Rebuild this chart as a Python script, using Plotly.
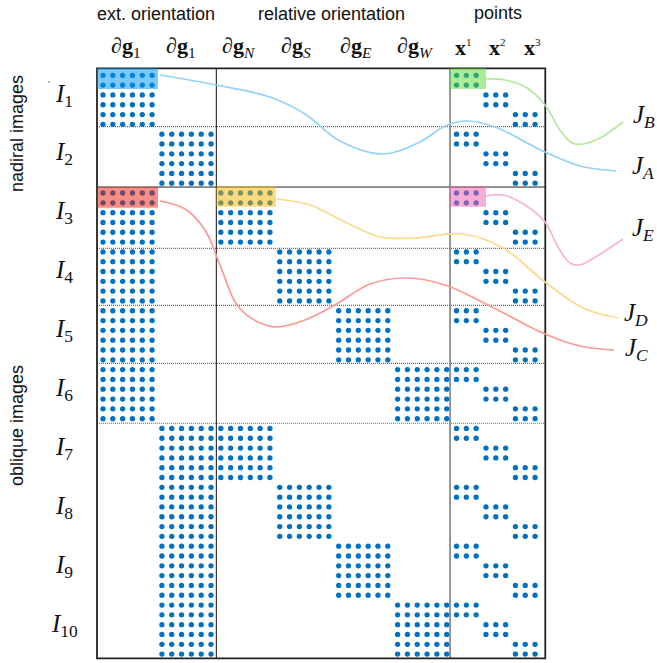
import plotly.graph_objects as go

# matrix layout: 10 images x 6 rows, 45 unknowns
images = ["I1", "I2", "I3", "I4", "I5", "I6", "I7", "I8", "I9", "I10"]
image_rows = 6
ext_a_images = [0, 2, 3, 4, 5]
ext_b_images = [1, 6, 7, 8, 9]
rel_blocks = {12: [2, 6], 18: [3, 7], 24: [4, 8], 30: [5, 9]}
point_start = 36

sup = "<sup><span style='font-size:11px'>%s</span></sup>"
col_heads = ["∂<b>g</b><sub>1</sub>", "∂<b>g</b><sub>1</sub>", "∂<b>g</b><sub><i>N</i></sub>", "∂<b>g</b><sub><i>S</i></sub>",
             "∂<b>g</b><sub><i>E</i></sub>", "∂<b>g</b><sub><i>W</i></sub>", "<b>x</b>" + sup % 1, "<b>x</b>" + sup % 2, "<b>x</b>" + sup % 3]
head_x = [126, 181, 238, 296, 356, 415, 463, 497, 532]

# separators in matrix units (column / row)
hlines_dotted = [5.23, 17.64, 23.45, 29.36, 35.47]
hline_solid = 11.39
frame = [-0.61, 45.04, -0.71, 59.43]
vline_black = 11.54
vline_gray = 35.34

# highlighted jacobian blocks: x0, x1, y0, y1, colour
highlights = [
    (-0.61, 5.6, -0.71, 1.4, "rgba(0,150,245,0.52)"),
    (35.34, 39.0, -0.71, 1.4, "rgba(90,215,50,0.5)"),
    (-0.61, 5.6, 11.39, 13.5, "rgba(235,30,10,0.5)"),
    (11.54, 17.6, 11.3, 13.4, "rgba(245,180,0,0.5)"),
    (35.34, 39.0, 11.3, 13.4, "rgba(240,90,170,0.5)"),
]

# curves
ja_x = [160, 216, 270, 305, 340, 383, 420, 445, 467, 495, 545, 580, 616]
ja_y = [75, 85, 97, 114, 141, 154, 142, 126, 121, 127, 152, 166, 171]
jb_x = [486, 505, 527, 545, 560, 572, 583, 600, 623]
jb_y = [79, 80, 88, 105, 130, 143, 144, 138, 122]
jc_x = [160, 185, 205, 220, 237, 256, 277, 305, 335, 370, 407, 445, 490, 545, 580, 614]
jc_y = [201, 209, 230, 265, 305, 321, 327, 320, 305, 284, 278, 285, 306, 334, 346, 350]
jd_x = [277, 310, 345, 380, 415, 463, 503, 545, 583, 618]
jd_y = [199, 205, 222, 237, 238, 234, 248, 282, 308, 318]
je_x = [486, 503, 525, 545, 558, 570, 580, 597, 623]
je_y = [196, 195, 205, 222, 247, 263, 265, 256, 239]

curves = [
    (ja_x, ja_y, "#93d1fb"),
    (jb_x, jb_y, "#b4e89c"),
    (jc_x, jc_y, "#f99a94"),
    (jd_x, jd_y, "#fcd98d"),
    (je_x, je_y, "#f7b3d8"),
]
curve_labels = [("J", "A", 643, 167), ("J", "B", 644, 116), ("J", "C", 636, 349), ("J", "D", 636, 314), ("J", "E", 643, 229)]

# stray speck left of the I1 label
speck_x = [49]
speck_y = [82]

W, H = 657, 663
COL_STEP, ROW_STEP = 9.82, 9.81
COL0, ROW0 = 103.0, 75.3
DOT = "#0070c0"


def main():
    dots_x, dots_y = [], []

    def block(c0, r0, ncols, nrows):
        for r in range(r0, r0 + nrows):
            for c in range(c0, c0 + ncols):
                dots_x.append(c)
                dots_y.append(r)

    for i in ext_a_images:
        block(0, i * image_rows, 6, image_rows)
    for i in ext_b_images:
        block(6, i * image_rows, 6, image_rows)
    for c0, imgs in rel_blocks.items():
        for i in imgs:
            block(c0, i * image_rows, 6, image_rows)
    for i in range(len(images)):
        for k in range(3):
            block(point_start + 3 * k, i * image_rows + 2 * k, 3, 2)

    fig = go.Figure()
    fig.add_trace(go.Scatter(x=dots_x, y=dots_y, mode="markers", hoverinfo="skip",
                             marker=dict(color=DOT, size=5.3, line_width=0)))

    # curves go on a second pair of axes in picture units
    for cx, cy, color in curves:
        fig.add_trace(go.Scatter(x=cx, y=cy, mode="lines", xaxis="x2", yaxis="y2", hoverinfo="skip",
                                 line=dict(color=color, width=1.7, shape="spline", smoothing=1.0)))
    fig.add_trace(go.Scatter(x=speck_x, y=speck_y, mode="markers", xaxis="x2", yaxis="y2", hoverinfo="skip",
                             marker=dict(color="#555555", size=1.5, line_width=0)))

    for y in hlines_dotted:
        fig.add_shape(type="line", x0=frame[0], x1=frame[1], y0=y, y1=y, layer="below",
                      line=dict(color="#666666", width=1.2, dash="1px,1px"))
    fig.add_shape(type="line", x0=frame[0], x1=frame[1], y0=hline_solid, y1=hline_solid, layer="below",
                  line=dict(color="#222222", width=1))
    fig.add_shape(type="line", x0=vline_black, x1=vline_black, y0=frame[2], y1=frame[3], layer="below",
                  line=dict(color="#111111", width=1))
    fig.add_shape(type="line", x0=vline_gray, x1=vline_gray, y0=frame[2], y1=frame[3], layer="below",
                  line=dict(color="#777777", width=1.5))
    fig.add_shape(type="rect", x0=frame[0], x1=frame[1], y0=frame[2], y1=frame[3], layer="below",
                  line=dict(color="#222222", width=1.8))

    for x0, x1, y0, y1, color in highlights:
        fig.add_shape(type="rect", x0=x0, x1=x1, y0=y0, y1=y1, fillcolor=color, line_width=0)

    serif = "Liberation Serif"
    sans = "Liberation Sans"

    def text(x, y, s, size, family, angle=0):
        fig.add_annotation(x=x, y=y, xref="x2", yref="y2", text=s, showarrow=False, textangle=angle,
                           font=dict(family=family, size=size, color="#111111"))

    text(156, 14, "ext. orientation", 18, sans)
    text(331, 14, "relative orientation", 18, sans)
    text(498, 13, "points", 18, sans)
    text(17, 134, "nadiral images", 18, sans, -90)
    text(17, 426, "oblique images", 18, sans, -90)

    for x, s in zip(head_x, col_heads):
        text(x, 47, s, 22, serif)

    for i, name in enumerate(images):
        s = "<i>I</i><sub>%s</sub>" % name[1:]
        text(64, 95 + i * 58.9, s, 25, serif)

    for j, sub, x, y in curve_labels:
        text(x, y, "<i>%s</i><sub><i>%s</i></sub>" % (j, sub), 25, serif)

    hidden = dict(visible=False, showgrid=False, zeroline=False)
    fig.update_layout(
        width=W, height=H, margin=dict(l=0, r=0, t=0, b=0),
        showlegend=False, plot_bgcolor="white", paper_bgcolor="white",
        xaxis=dict(range=[-COL0 / COL_STEP, (W - COL0) / COL_STEP], **hidden),
        yaxis=dict(range=[(H - ROW0) / ROW_STEP, -ROW0 / ROW_STEP], **hidden),
        xaxis2=dict(range=[0, W], overlaying="x", **hidden),
        yaxis2=dict(range=[H, 0], overlaying="y", **hidden),
    )
    fig.write_html("out.html", config={"displayModeBar": False},
                   post_script="document.body.style.margin='0';")


if __name__ == "__main__":
    main()
